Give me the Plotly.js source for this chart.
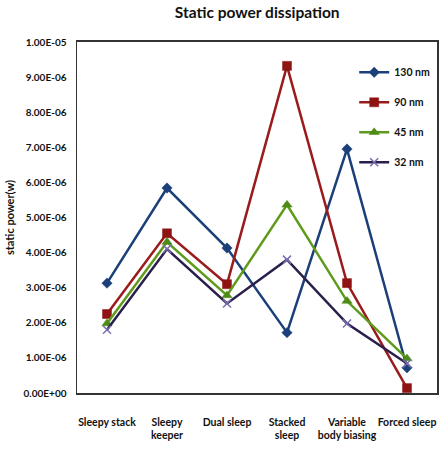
<!DOCTYPE html>
<html>
<head>
<meta charset="utf-8">
<script src="https://cdn.plot.ly/plotly-3.0.1.min.js"></script>
<style>
  html, body { margin: 0; padding: 0; background: #fff; }
  #chart { width: 445px; height: 449px; }
</style>
</head>
<body>
<div id="chart"></div>
<script>
// Sleep-mode techniques on the category axis
const techniques = ["Sleepy stack", "Sleepy<br>keeper", "Dual sleep", "Stacked<br>sleep", "Variable<br>body biasing", "Forced sleep"];

// Static power (W) per technology node
const nm130 = [3.13e-6, 5.84e-6, 4.13e-6, 1.72e-6, 6.95e-6, 0.72e-6];
const nm90  = [2.25e-6, 4.55e-6, 3.10e-6, 9.32e-6, 3.13e-6, 0.14e-6];
const nm45  = [1.98e-6, 4.30e-6, 2.78e-6, 5.36e-6, 2.62e-6, 0.98e-6];
const nm32  = [1.80e-6, 4.10e-6, 2.55e-6, 3.80e-6, 1.98e-6, 0.84e-6];

// Y tick positions and their scientific-notation labels
const yTickVals = [0, 1e-6, 2e-6, 3e-6, 4e-6, 5e-6, 6e-6, 7e-6, 8e-6, 9e-6, 1e-5];
const yTickText = ["0.00E+00", "1.00E-06", "2.00E-06", "3.00E-06", "4.00E-06", "5.00E-06",
                   "6.00E-06", "7.00E-06", "8.00E-06", "9.00E-06", "1.00E-05"];

const FONT = "Lato, 'Liberation Sans', sans-serif";

function series(name, y, lineColor, symbol, markerColor, size, group) {
  return {
    type: "scatter",
    mode: "lines+markers",
    name: name,
    x: techniques,
    y: y,
    legendgroup: group,
    line: { color: lineColor, width: 2.5 },
    marker: {
      symbol: symbol,
      size: size,
      color: markerColor,
      line: { color: markerColor, width: symbol === "x-thin" ? 1.5 : 0.5 }
    }
  };
}

const data = [
  series("130 nm", nm130, "#1B3F78", "diamond", "#1B3F78", 8, "a"),
  series("90 nm",  nm90,  "#9A1B1B", "square", "#8E1414", 9, "b"),
  series("45 nm",  nm45,  "#5E9A1C", "triangle-up", "#4E8A16", 9, "c"),
  series("32 nm",  nm32,  "#2A1F4A", "x-thin", "#7A6DB0", 8, "d")
];

const layout = {
  width: 445,
  height: 449,
  margin: { l: 77, r: 8, t: 42, b: 56 },
  paper_bgcolor: "#fff",
  plot_bgcolor: "#fff",
  font: { family: FONT, size: 10, color: "#111", weight: "bold" },
  title: {
    text: "Static power dissipation",
    font: { family: FONT, size: 15.5, weight: "bold", color: "#111" },
    x: 0.578, xanchor: "center", y: 0.972, yanchor: "middle"
  },
  showlegend: true,
  legend: {
    x: 0.77, xanchor: "left",
    y: 0.955, yanchor: "top",
    bgcolor: "rgba(0,0,0,0)",
    traceorder: "grouped",
    tracegroupgap: 11,
    itemwidth: 30,
    font: { family: FONT, size: 10.5, weight: "bold", color: "#111" }
  },
  xaxis: {
    type: "category",
    range: [-0.5, 5.5],
    showgrid: false,
    zeroline: false,
    showline: true,
    linecolor: "#333",
    linewidth: 2,
    mirror: true,
    ticks: "",
    tickangle: 0,
    ticklabelstandoff: 18,
    tickfont: { family: FONT, size: 10.5, weight: "bold", color: "#111" },
    fixedrange: true
  },
  yaxis: {
    range: [0, 1e-5],
    tickvals: yTickVals,
    ticktext: yTickText,
    showgrid: false,
    zeroline: false,
    showline: true,
    linecolor: "#333",
    linewidth: 1.5,
    mirror: true,
    ticks: "",
    ticklabelstandoff: 7,
    tickfont: { family: FONT, size: 10, weight: "bold", color: "#111" },
    title: {
      text: "static power(w)",
      font: { family: FONT, size: 11, weight: "bold", color: "#111" },
      standoff: 6
    },
    fixedrange: true
  }
};

Plotly.newPlot("chart", data, layout, { displayModeBar: false, staticPlot: true });
</script>
</body>
</html>
